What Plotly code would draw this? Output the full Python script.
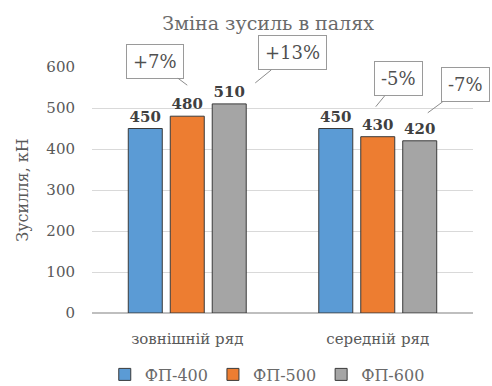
import plotly.graph_objects as go

categories = ["зовнішній ряд", "середній ряд"]
series_names = ["ФП-400", "ФП-500", "ФП-600"]
values_400 = [450, 450]
values_500 = [480, 430]
values_600 = [510, 420]
colors = ["#5B9BD5", "#ED7D31", "#A5A5A5"]

callout_labels = ["+7%", "+13%", "-5%", "-7%"]
# (category index, series index) for each callout
callout_targets = [(0, 1), (0, 2), (1, 1), (1, 2)]

serif = "DejaVu Serif"
all_vals = [values_400, values_500, values_600]

fig = go.Figure()
for name, vals, col in zip(series_names, all_vals, colors):
    fig.add_trace(go.Bar(
        name=name, x=categories, y=vals,
        marker=dict(color=col, line=dict(color="#3a3a3a", width=1)),
        text=["<b>%d</b>" % v for v in vals], textposition="outside",
        textfont=dict(family=serif, size=15, color="#404040"),
        cliponaxis=False,
    ))

# callout geometry (pixel offsets)
bar_offset = [-42, 0, 42]
tip_dx = [0, 26, -2, 8]
tip_dy = [31, 21, 30, 28]
box_ax = [-32, 37, 23, 38]
box_ay = [-24, -30, -28, -28]
for k, (lab, (ci, si)) in enumerate(zip(callout_labels, callout_targets)):
    fig.add_annotation(
        x=categories[ci], y=all_vals[si][ci],
        xshift=bar_offset[si] + tip_dx[k], yshift=tip_dy[k],
        text=lab, showarrow=True, arrowhead=0, arrowwidth=1,
        arrowcolor="#8c8c8c", ax=box_ax[k], ay=box_ay[k],
        bordercolor="#9a9a9a", borderwidth=1, borderpad=6,
        bgcolor="white",
        font=dict(family=serif, size=18, color="#505050"),
    )

fig.update_layout(
    width=492, height=386,
    margin=dict(l=92, r=19, t=67, b=73, autoexpand=False),
    paper_bgcolor="white", plot_bgcolor="white",
    barmode="group", bargap=0.339, bargroupgap=0.19,
    title=dict(text="Зміна зусиль в палях", x=0.545, xanchor="center",
               y=0.94, yanchor="middle",
               font=dict(family=serif, size=19, color="#6a6a6a")),
    font=dict(family=serif, color="#595959"),
    showlegend=True,
    legend=dict(orientation="h", x=0.46, xanchor="center", y=-0.25, yanchor="middle",
                font=dict(family=serif, size=16, color="#6a6a6a"),
                itemwidth=30, traceorder="normal"),
)
fig.update_yaxes(
    range=[0, 600], dtick=100, showgrid=True, gridcolor="#D9D9D9",
    zeroline=True, zerolinecolor="#BFBFBF", showline=False, automargin=False,
    tickfont=dict(family=serif, size=15, color="#595959"), ticks="",
    ticklabelstandoff=16,
    title=dict(text="Зусилля, кН", font=dict(family=serif, size=16, color="#595959"), standoff=13),
)
fig.update_xaxes(
    range=[-0.5, len(categories) - 0.5],
    showline=False, ticks="", ticklabelstandoff=15, automargin=False,
    tickfont=dict(family=serif, size=15, color="#595959"),
)

fig.write_html("out.html")
